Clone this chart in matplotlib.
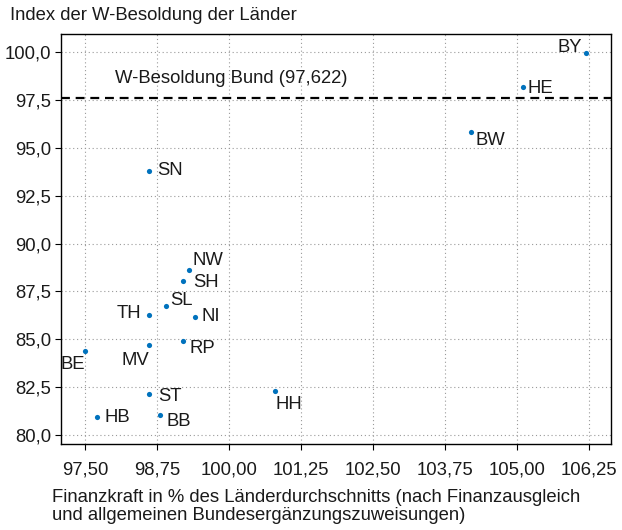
import matplotlib

matplotlib.use("Agg")
import matplotlib.pyplot as plt  # noqa: E402
from matplotlib.ticker import FuncFormatter  # noqa: E402

plt.rcParams["font.family"] = ["Liberation Sans", "DejaVu Sans"]

# Daten: Finanzkraft (x) und Index der W-Besoldung (y) je Land
laender = ["BY", "HE", "BW", "SN", "NW", "SH", "SL", "TH", "NI",
           "MV", "RP", "BE", "ST", "HH", "HB", "BB"]
finanzkraft = [106.20, 105.10, 104.20, 98.61, 99.30, 99.20, 98.90, 98.61,
               99.40, 98.61, 99.20, 97.50, 98.61, 100.80, 97.71, 98.80]
index_w = [99.97, 98.16, 95.81, 93.80, 88.63, 88.07, 86.72, 86.26,
           86.18, 84.68, 84.90, 84.37, 82.17, 82.31, 80.96, 81.04]
bund_wert = 97.622

x_ticks = [97.50, 98.75, 100.00, 101.25, 102.50, 103.75, 105.00, 106.25]
y_ticks = [80.0, 82.5, 85.0, 87.5, 90.0, 92.5, 95.0, 97.5, 100.0]

# Beschriftungsversatz in Pixeln (dx, dy, ha)
label_pos = {
    "BY": (-4, 5, "right"), "HE": (5, -1, "left"), "BW": (5, -8, "left"),
    "SN": (8, 0, "left"), "NW": (4, 9, "left"), "SH": (10, -2, "left"),
    "SL": (4, 6, "left"), "TH": (-8, 2, "right"), "NI": (7, 0, "left"),
    "MV": (0, -15, "right"), "RP": (6, -7, "left"), "BE": (0, -13, "right"),
    "ST": (9, -3, "left"), "HH": (0, -14, "left"), "HB": (7, -1, "left"),
    "BB": (7, -6, "left"),
}

TXT = "#1a1a1a"
BLUE = "#0072BD"
FS = 13.3

fig = plt.figure(figsize=(6.22, 5.30), dpi=100)
ax = fig.add_axes([0.098, 0.163, 0.884, 0.773])

ax.set_xlim(97.08, 106.63)
ax.set_ylim(79.56, 100.94)

ax.grid(True, color="#9a9a9a", linestyle=(0, (1, 2.5)), linewidth=0.8)
ax.set_axisbelow(True)

ax.axhline(bund_wert, color="black", linewidth=1.6, linestyle=(0, (4, 2.6)), zorder=2)
ax.text(98.01, 98.62, "W-Besoldung Bund (97,622)", fontsize=FS, color=TXT,
        ha="left", va="center")

ax.scatter(finanzkraft, index_w, s=14, color=BLUE, zorder=3, linewidths=0)

for name, x, y in zip(laender, finanzkraft, index_w):
    dx, dy, ha = label_pos[name]
    ax.annotate(name, (x, y), xytext=(dx, dy), textcoords="offset pixels",
                ha=ha, va="center", fontsize=FS, color=TXT)

ax.set_xticks(x_ticks)
ax.set_yticks(y_ticks)
ax.xaxis.set_major_formatter(FuncFormatter(lambda v, p: f"{v:.2f}".replace(".", ",")))
ax.yaxis.set_major_formatter(FuncFormatter(lambda v, p: f"{v:.1f}".replace(".", ",")))
ax.tick_params(direction="out", length=4, width=0.8, labelsize=FS,
               labelcolor=TXT, pad=3)
ax.tick_params(axis="x", pad=9)
for sp in ax.spines.values():
    sp.set_linewidth(1.0)
    sp.set_color("black")

fig.text(0.016, 0.970, "Index der W-Besoldung der Länder", fontsize=FS,
         color=TXT, ha="left", va="center")
fig.text(0.083, 0.045,
         "Finanzkraft in % des Länderdurchschnitts (nach Finanzausgleich\n"
         "und allgemeinen Bundesergänzungszuweisungen)",
         fontsize=FS, color=TXT, ha="left", va="center", linespacing=1.1)

fig.savefig("out.png", dpi=100)
